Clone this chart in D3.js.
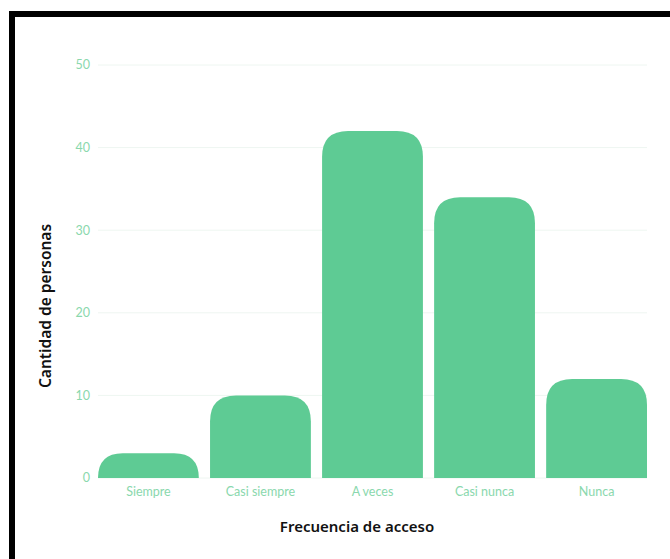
<!DOCTYPE html>
<html><head><meta charset="utf-8">
<script src="https://cdn.jsdelivr.net/npm/d3@7"></script>
<style>html,body{margin:0;padding:0;background:#fff;}svg{display:block;}</style>
</head><body>
<svg id="c" width="670" height="559"></svg>
<script>
const categories = ["Siempre", "Casi siempre", "A veces", "Casi nunca", "Nunca"];
const values = [3, 10, 42, 34, 12];
const yTicks = [0, 10, 20, 30, 40, 50];
const xTitle = "Frecuencia de acceso";
const yTitle = "Cantidad de personas";

(function () {
const svg = d3.select("#c");
const mLeft = 98, mRight = 647, mTop = 65, mBottom = 478;
const barColor = "#5ecb94", tickColor = "#8ad8ad", gridColor = "#eef6f1";

// frame
svg.append("rect").attr("x", 9).attr("y", 11).attr("width", 670).attr("height", 6).attr("fill", "#000");
svg.append("rect").attr("x", 9).attr("y", 11).attr("width", 6).attr("height", 560).attr("fill", "#000");

const x = d3.scaleBand().domain(categories).range([mLeft, mRight]).paddingInner(0.1).paddingOuter(0);
const y = d3.scaleLinear().domain([0, 50]).range([mBottom, mTop]);

// grid
svg.append("g").selectAll("line").data(yTicks).join("line")
  .attr("x1", mLeft).attr("x2", mRight)
  .attr("y1", d => y(d)).attr("y2", d => y(d))
  .attr("stroke", gridColor).attr("stroke-width", 1);

// y tick labels
svg.append("g").selectAll("text").data(yTicks).join("text")
  .attr("x", 90).attr("y", d => y(d)).attr("dy", "0.35em")
  .attr("text-anchor", "end").attr("fill", tickColor)
  .attr("font-family", "Lato, 'Noto Sans', sans-serif").attr("font-size", 12.5)
  .text(d => d);

// bars with rounded top
function barPath(x0, w, yTop, yBot, r) {
  const h = yBot - yTop;
  const rr = Math.min(r, h, w / 2);
  return `M${x0},${yBot} L${x0},${yTop + rr} Q${x0},${yTop} ${x0 + rr},${yTop} L${x0 + w - rr},${yTop} Q${x0 + w},${yTop} ${x0 + w},${yTop + rr} L${x0 + w},${yBot} Z`;
}
svg.append("g").selectAll("path").data(values).join("path")
  .attr("d", (d, i) => barPath(x(categories[i]), x.bandwidth(), y(d), y(0), 26))
  .attr("fill", barColor);

// x tick labels
svg.append("g").selectAll("text").data(categories).join("text")
  .attr("x", d => x(d) + x.bandwidth() / 2).attr("y", 492).attr("dy", "0.35em")
  .attr("text-anchor", "middle").attr("fill", tickColor)
  .attr("font-family", "Lato, 'Noto Sans', sans-serif").attr("font-size", 12.5)
  .text(d => d);

// titles
svg.append("text").attr("x", 357).attr("y", 527).attr("dy", "0.35em")
  .attr("text-anchor", "middle").attr("font-family", "'Noto Sans', sans-serif")
  .attr("font-weight", 600).attr("font-size", 15).attr("fill", "#111")
  .text(xTitle);
svg.append("text").attr("transform", "translate(46,306) rotate(-90)").attr("dy", "0.35em")
  .attr("text-anchor", "middle").attr("font-family", "'Noto Sans', sans-serif")
  .attr("font-weight", 600).attr("font-size", 15.5).attr("fill", "#111")
  .text(yTitle);
})();
</script>
</body></html>
